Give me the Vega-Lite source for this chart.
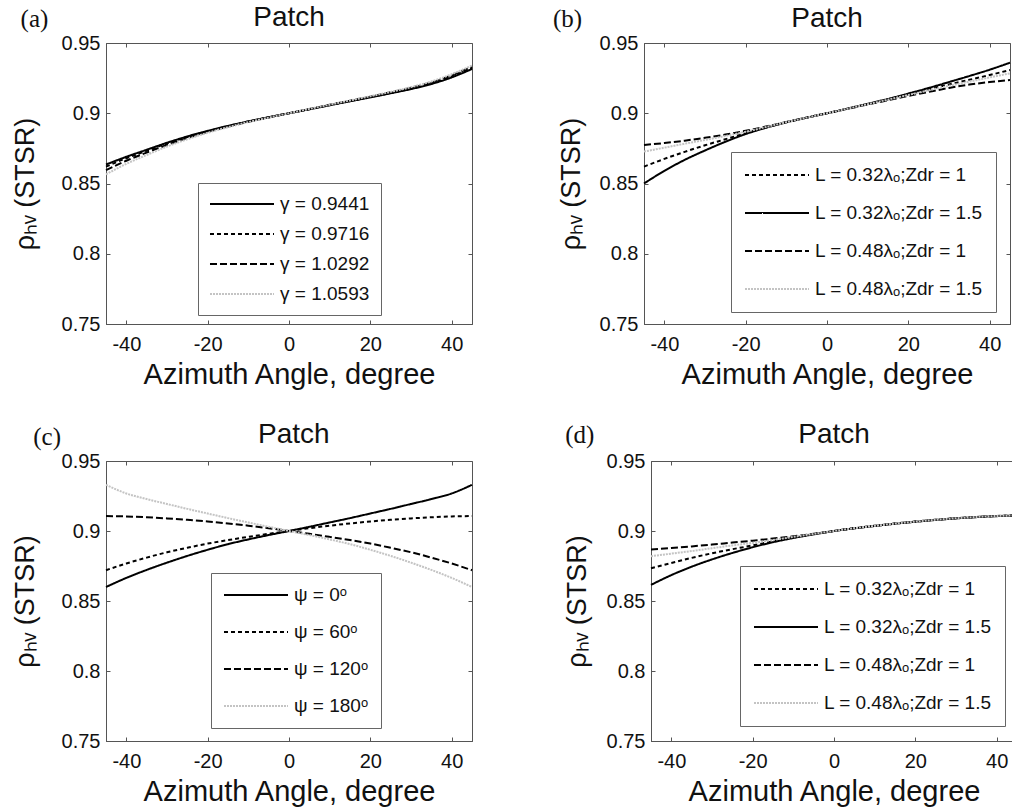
{
"$schema": "https://vega.github.io/schema/vega-lite/v6.json",
"padding": {"left": 10, "top": 3, "right": 0, "bottom": 0},
"background": "white",
"config": {
 "font": "Liberation Sans",
 "view": {"stroke": "#555", "strokeWidth": 1},
 "axis": {"grid": false, "labelFont": "Liberation Sans", "labelFontSize": 20, "labelColor": "#111", "titleFont": "Liberation Sans", "titleFontSize": 29, "titleFontWeight": "normal", "titleColor": "#111", "domainColor": "#555", "tickColor": "#555", "tickSize": -4, "tickWidth": 1},
 "axisX": {"labelPadding": 14, "titlePadding": 6},
 "axisY": {"labelPadding": 10, "titleFontSize": 27},
 "legend": {"labelFont": "Liberation Sans", "labelFontSize": 19, "labelColor": "#111", "labelLimit": 400, "symbolType": "M-3.556,0H3.556", "symbolSize": 324, "symbolOffset": 23, "symbolStrokeWidth": 2, "strokeColor": "#666", "fillColor": "white", "labelOffset": 28}
},
"datasets": {
"a": [
{"phi":-45,"rho":0.8635,"series":"γ = 0.9441"},{"phi":-40,"rho":0.8690,"series":"γ = 0.9441"},{"phi":-35,"rho":0.8740,"series":"γ = 0.9441"},{"phi":-30,"rho":0.8790,"series":"γ = 0.9441"},{"phi":-25,"rho":0.8835,"series":"γ = 0.9441"},{"phi":-20,"rho":0.8875,"series":"γ = 0.9441"},{"phi":-15,"rho":0.8910,"series":"γ = 0.9441"},{"phi":-10,"rho":0.8942,"series":"γ = 0.9441"},{"phi":-5,"rho":0.8972,"series":"γ = 0.9441"},{"phi":0,"rho":0.9000,"series":"γ = 0.9441"},{"phi":5,"rho":0.9028,"series":"γ = 0.9441"},{"phi":10,"rho":0.9057,"series":"γ = 0.9441"},{"phi":15,"rho":0.9085,"series":"γ = 0.9441"},{"phi":20,"rho":0.9113,"series":"γ = 0.9441"},{"phi":25,"rho":0.9142,"series":"γ = 0.9441"},{"phi":30,"rho":0.9172,"series":"γ = 0.9441"},{"phi":35,"rho":0.9208,"series":"γ = 0.9441"},{"phi":40,"rho":0.9255,"series":"γ = 0.9441"},{"phi":45,"rho":0.9315,"series":"γ = 0.9441"},
{"phi":-45,"rho":0.8620,"series":"γ = 0.9716"},{"phi":-40,"rho":0.8680,"series":"γ = 0.9716"},{"phi":-35,"rho":0.8733,"series":"γ = 0.9716"},{"phi":-30,"rho":0.8785,"series":"γ = 0.9716"},{"phi":-25,"rho":0.8831,"series":"γ = 0.9716"},{"phi":-20,"rho":0.8872,"series":"γ = 0.9716"},{"phi":-15,"rho":0.8908,"series":"γ = 0.9716"},{"phi":-10,"rho":0.8941,"series":"γ = 0.9716"},{"phi":-5,"rho":0.8971,"series":"γ = 0.9716"},{"phi":0,"rho":0.9000,"series":"γ = 0.9716"},{"phi":5,"rho":0.9029,"series":"γ = 0.9716"},{"phi":10,"rho":0.9058,"series":"γ = 0.9716"},{"phi":15,"rho":0.9087,"series":"γ = 0.9716"},{"phi":20,"rho":0.9115,"series":"γ = 0.9716"},{"phi":25,"rho":0.9145,"series":"γ = 0.9716"},{"phi":30,"rho":0.9176,"series":"γ = 0.9716"},{"phi":35,"rho":0.9213,"series":"γ = 0.9716"},{"phi":40,"rho":0.9262,"series":"γ = 0.9716"},{"phi":45,"rho":0.9323,"series":"γ = 0.9716"},
{"phi":-45,"rho":0.8595,"series":"γ = 1.0292"},{"phi":-40,"rho":0.8662,"series":"γ = 1.0292"},{"phi":-35,"rho":0.8720,"series":"γ = 1.0292"},{"phi":-30,"rho":0.8775,"series":"γ = 1.0292"},{"phi":-25,"rho":0.8824,"series":"γ = 1.0292"},{"phi":-20,"rho":0.8867,"series":"γ = 1.0292"},{"phi":-15,"rho":0.8905,"series":"γ = 1.0292"},{"phi":-10,"rho":0.8939,"series":"γ = 1.0292"},{"phi":-5,"rho":0.8970,"series":"γ = 1.0292"},{"phi":0,"rho":0.9000,"series":"γ = 1.0292"},{"phi":5,"rho":0.9030,"series":"γ = 1.0292"},{"phi":10,"rho":0.9060,"series":"γ = 1.0292"},{"phi":15,"rho":0.9089,"series":"γ = 1.0292"},{"phi":20,"rho":0.9118,"series":"γ = 1.0292"},{"phi":25,"rho":0.9149,"series":"γ = 1.0292"},{"phi":30,"rho":0.9181,"series":"γ = 1.0292"},{"phi":35,"rho":0.9219,"series":"γ = 1.0292"},{"phi":40,"rho":0.9270,"series":"γ = 1.0292"},{"phi":45,"rho":0.9332,"series":"γ = 1.0292"},
{"phi":-45,"rho":0.8565,"series":"γ = 1.0593"},{"phi":-40,"rho":0.8640,"series":"γ = 1.0593"},{"phi":-35,"rho":0.8703,"series":"γ = 1.0593"},{"phi":-30,"rho":0.8763,"series":"γ = 1.0593"},{"phi":-25,"rho":0.8815,"series":"γ = 1.0593"},{"phi":-20,"rho":0.8861,"series":"γ = 1.0593"},{"phi":-15,"rho":0.8901,"series":"γ = 1.0593"},{"phi":-10,"rho":0.8937,"series":"γ = 1.0593"},{"phi":-5,"rho":0.8969,"series":"γ = 1.0593"},{"phi":0,"rho":0.9000,"series":"γ = 1.0593"},{"phi":5,"rho":0.9031,"series":"γ = 1.0593"},{"phi":10,"rho":0.9061,"series":"γ = 1.0593"},{"phi":15,"rho":0.9091,"series":"γ = 1.0593"},{"phi":20,"rho":0.9121,"series":"γ = 1.0593"},{"phi":25,"rho":0.9152,"series":"γ = 1.0593"},{"phi":30,"rho":0.9186,"series":"γ = 1.0593"},{"phi":35,"rho":0.9226,"series":"γ = 1.0593"},{"phi":40,"rho":0.9278,"series":"γ = 1.0593"},{"phi":45,"rho":0.9340,"series":"γ = 1.0593"}
],
"b": [
{"phi":-45,"rho":0.8620,"series":"L = 0.32λₒ;Zdr = 1"},{"phi":-40,"rho":0.8675,"series":"L = 0.32λₒ;Zdr = 1"},{"phi":-35,"rho":0.8725,"series":"L = 0.32λₒ;Zdr = 1"},{"phi":-30,"rho":0.8772,"series":"L = 0.32λₒ;Zdr = 1"},{"phi":-25,"rho":0.8815,"series":"L = 0.32λₒ;Zdr = 1"},{"phi":-20,"rho":0.8858,"series":"L = 0.32λₒ;Zdr = 1"},{"phi":-15,"rho":0.8899,"series":"L = 0.32λₒ;Zdr = 1"},{"phi":-10,"rho":0.8936,"series":"L = 0.32λₒ;Zdr = 1"},{"phi":-5,"rho":0.8969,"series":"L = 0.32λₒ;Zdr = 1"},{"phi":0,"rho":0.9000,"series":"L = 0.32λₒ;Zdr = 1"},{"phi":5,"rho":0.9032,"series":"L = 0.32λₒ;Zdr = 1"},{"phi":10,"rho":0.9065,"series":"L = 0.32λₒ;Zdr = 1"},{"phi":15,"rho":0.9099,"series":"L = 0.32λₒ;Zdr = 1"},{"phi":20,"rho":0.9134,"series":"L = 0.32λₒ;Zdr = 1"},{"phi":25,"rho":0.9170,"series":"L = 0.32λₒ;Zdr = 1"},{"phi":30,"rho":0.9205,"series":"L = 0.32λₒ;Zdr = 1"},{"phi":35,"rho":0.9238,"series":"L = 0.32λₒ;Zdr = 1"},{"phi":40,"rho":0.9272,"series":"L = 0.32λₒ;Zdr = 1"},{"phi":45,"rho":0.9308,"series":"L = 0.32λₒ;Zdr = 1"},
{"phi":-45,"rho":0.8500,"series":"L = 0.32λₒ;Zdr = 1.5"},{"phi":-40,"rho":0.8590,"series":"L = 0.32λₒ;Zdr = 1.5"},{"phi":-35,"rho":0.8668,"series":"L = 0.32λₒ;Zdr = 1.5"},{"phi":-30,"rho":0.8735,"series":"L = 0.32λₒ;Zdr = 1.5"},{"phi":-25,"rho":0.8797,"series":"L = 0.32λₒ;Zdr = 1.5"},{"phi":-20,"rho":0.8852,"series":"L = 0.32λₒ;Zdr = 1.5"},{"phi":-15,"rho":0.8897,"series":"L = 0.32λₒ;Zdr = 1.5"},{"phi":-10,"rho":0.8935,"series":"L = 0.32λₒ;Zdr = 1.5"},{"phi":-5,"rho":0.8969,"series":"L = 0.32λₒ;Zdr = 1.5"},{"phi":0,"rho":0.9000,"series":"L = 0.32λₒ;Zdr = 1.5"},{"phi":5,"rho":0.9033,"series":"L = 0.32λₒ;Zdr = 1.5"},{"phi":10,"rho":0.9067,"series":"L = 0.32λₒ;Zdr = 1.5"},{"phi":15,"rho":0.9102,"series":"L = 0.32λₒ;Zdr = 1.5"},{"phi":20,"rho":0.9140,"series":"L = 0.32λₒ;Zdr = 1.5"},{"phi":25,"rho":0.9180,"series":"L = 0.32λₒ;Zdr = 1.5"},{"phi":30,"rho":0.9222,"series":"L = 0.32λₒ;Zdr = 1.5"},{"phi":35,"rho":0.9265,"series":"L = 0.32λₒ;Zdr = 1.5"},{"phi":40,"rho":0.9310,"series":"L = 0.32λₒ;Zdr = 1.5"},{"phi":45,"rho":0.9360,"series":"L = 0.32λₒ;Zdr = 1.5"},
{"phi":-45,"rho":0.8774,"series":"L = 0.48λₒ;Zdr = 1"},{"phi":-40,"rho":0.8788,"series":"L = 0.48λₒ;Zdr = 1"},{"phi":-35,"rho":0.8805,"series":"L = 0.48λₒ;Zdr = 1"},{"phi":-30,"rho":0.8825,"series":"L = 0.48λₒ;Zdr = 1"},{"phi":-25,"rho":0.8848,"series":"L = 0.48λₒ;Zdr = 1"},{"phi":-20,"rho":0.8875,"series":"L = 0.48λₒ;Zdr = 1"},{"phi":-15,"rho":0.8905,"series":"L = 0.48λₒ;Zdr = 1"},{"phi":-10,"rho":0.8937,"series":"L = 0.48λₒ;Zdr = 1"},{"phi":-5,"rho":0.8969,"series":"L = 0.48λₒ;Zdr = 1"},{"phi":0,"rho":0.9000,"series":"L = 0.48λₒ;Zdr = 1"},{"phi":5,"rho":0.9031,"series":"L = 0.48λₒ;Zdr = 1"},{"phi":10,"rho":0.9062,"series":"L = 0.48λₒ;Zdr = 1"},{"phi":15,"rho":0.9093,"series":"L = 0.48λₒ;Zdr = 1"},{"phi":20,"rho":0.9123,"series":"L = 0.48λₒ;Zdr = 1"},{"phi":25,"rho":0.9152,"series":"L = 0.48λₒ;Zdr = 1"},{"phi":30,"rho":0.9180,"series":"L = 0.48λₒ;Zdr = 1"},{"phi":35,"rho":0.9204,"series":"L = 0.48λₒ;Zdr = 1"},{"phi":40,"rho":0.9222,"series":"L = 0.48λₒ;Zdr = 1"},{"phi":45,"rho":0.9237,"series":"L = 0.48λₒ;Zdr = 1"},
{"phi":-45,"rho":0.8727,"series":"L = 0.48λₒ;Zdr = 1.5"},{"phi":-40,"rho":0.8755,"series":"L = 0.48λₒ;Zdr = 1.5"},{"phi":-35,"rho":0.8783,"series":"L = 0.48λₒ;Zdr = 1.5"},{"phi":-30,"rho":0.8810,"series":"L = 0.48λₒ;Zdr = 1.5"},{"phi":-25,"rho":0.8838,"series":"L = 0.48λₒ;Zdr = 1.5"},{"phi":-20,"rho":0.8868,"series":"L = 0.48λₒ;Zdr = 1.5"},{"phi":-15,"rho":0.8902,"series":"L = 0.48λₒ;Zdr = 1.5"},{"phi":-10,"rho":0.8936,"series":"L = 0.48λₒ;Zdr = 1.5"},{"phi":-5,"rho":0.8969,"series":"L = 0.48λₒ;Zdr = 1.5"},{"phi":0,"rho":0.9000,"series":"L = 0.48λₒ;Zdr = 1.5"},{"phi":5,"rho":0.9032,"series":"L = 0.48λₒ;Zdr = 1.5"},{"phi":10,"rho":0.9064,"series":"L = 0.48λₒ;Zdr = 1.5"},{"phi":15,"rho":0.9097,"series":"L = 0.48λₒ;Zdr = 1.5"},{"phi":20,"rho":0.9130,"series":"L = 0.48λₒ;Zdr = 1.5"},{"phi":25,"rho":0.9163,"series":"L = 0.48λₒ;Zdr = 1.5"},{"phi":30,"rho":0.9195,"series":"L = 0.48λₒ;Zdr = 1.5"},{"phi":35,"rho":0.9225,"series":"L = 0.48λₒ;Zdr = 1.5"},{"phi":40,"rho":0.9255,"series":"L = 0.48λₒ;Zdr = 1.5"},{"phi":45,"rho":0.9284,"series":"L = 0.48λₒ;Zdr = 1.5"}
],
"c": [
{"phi":-45,"rho":0.8600,"series":"ψ = 0ᵒ"},{"phi":-40,"rho":0.8665,"series":"ψ = 0ᵒ"},{"phi":-35,"rho":0.8722,"series":"ψ = 0ᵒ"},{"phi":-30,"rho":0.8774,"series":"ψ = 0ᵒ"},{"phi":-25,"rho":0.8822,"series":"ψ = 0ᵒ"},{"phi":-20,"rho":0.8866,"series":"ψ = 0ᵒ"},{"phi":-15,"rho":0.8906,"series":"ψ = 0ᵒ"},{"phi":-10,"rho":0.8940,"series":"ψ = 0ᵒ"},{"phi":-5,"rho":0.8971,"series":"ψ = 0ᵒ"},{"phi":0,"rho":0.9000,"series":"ψ = 0ᵒ"},{"phi":5,"rho":0.9030,"series":"ψ = 0ᵒ"},{"phi":10,"rho":0.9061,"series":"ψ = 0ᵒ"},{"phi":15,"rho":0.9092,"series":"ψ = 0ᵒ"},{"phi":20,"rho":0.9125,"series":"ψ = 0ᵒ"},{"phi":25,"rho":0.9158,"series":"ψ = 0ᵒ"},{"phi":30,"rho":0.9193,"series":"ψ = 0ᵒ"},{"phi":35,"rho":0.9228,"series":"ψ = 0ᵒ"},{"phi":40,"rho":0.9268,"series":"ψ = 0ᵒ"},{"phi":45,"rho":0.9330,"series":"ψ = 0ᵒ"},
{"phi":-45,"rho":0.8720,"series":"ψ = 60ᵒ"},{"phi":-40,"rho":0.8768,"series":"ψ = 60ᵒ"},{"phi":-35,"rho":0.8810,"series":"ψ = 60ᵒ"},{"phi":-30,"rho":0.8848,"series":"ψ = 60ᵒ"},{"phi":-25,"rho":0.8880,"series":"ψ = 60ᵒ"},{"phi":-20,"rho":0.8910,"series":"ψ = 60ᵒ"},{"phi":-15,"rho":0.8935,"series":"ψ = 60ᵒ"},{"phi":-10,"rho":0.8958,"series":"ψ = 60ᵒ"},{"phi":-5,"rho":0.8980,"series":"ψ = 60ᵒ"},{"phi":0,"rho":0.9000,"series":"ψ = 60ᵒ"},{"phi":5,"rho":0.9020,"series":"ψ = 60ᵒ"},{"phi":10,"rho":0.9038,"series":"ψ = 60ᵒ"},{"phi":15,"rho":0.9054,"series":"ψ = 60ᵒ"},{"phi":20,"rho":0.9068,"series":"ψ = 60ᵒ"},{"phi":25,"rho":0.9080,"series":"ψ = 60ᵒ"},{"phi":30,"rho":0.9090,"series":"ψ = 60ᵒ"},{"phi":35,"rho":0.9098,"series":"ψ = 60ᵒ"},{"phi":40,"rho":0.9104,"series":"ψ = 60ᵒ"},{"phi":45,"rho":0.9107,"series":"ψ = 60ᵒ"},
{"phi":-45,"rho":0.9107,"series":"ψ = 120ᵒ"},{"phi":-40,"rho":0.9104,"series":"ψ = 120ᵒ"},{"phi":-35,"rho":0.9098,"series":"ψ = 120ᵒ"},{"phi":-30,"rho":0.9090,"series":"ψ = 120ᵒ"},{"phi":-25,"rho":0.9080,"series":"ψ = 120ᵒ"},{"phi":-20,"rho":0.9068,"series":"ψ = 120ᵒ"},{"phi":-15,"rho":0.9054,"series":"ψ = 120ᵒ"},{"phi":-10,"rho":0.9038,"series":"ψ = 120ᵒ"},{"phi":-5,"rho":0.9020,"series":"ψ = 120ᵒ"},{"phi":0,"rho":0.9000,"series":"ψ = 120ᵒ"},{"phi":5,"rho":0.8980,"series":"ψ = 120ᵒ"},{"phi":10,"rho":0.8958,"series":"ψ = 120ᵒ"},{"phi":15,"rho":0.8935,"series":"ψ = 120ᵒ"},{"phi":20,"rho":0.8910,"series":"ψ = 120ᵒ"},{"phi":25,"rho":0.8880,"series":"ψ = 120ᵒ"},{"phi":30,"rho":0.8848,"series":"ψ = 120ᵒ"},{"phi":35,"rho":0.8810,"series":"ψ = 120ᵒ"},{"phi":40,"rho":0.8768,"series":"ψ = 120ᵒ"},{"phi":45,"rho":0.8720,"series":"ψ = 120ᵒ"},
{"phi":-45,"rho":0.9330,"series":"ψ = 180ᵒ"},{"phi":-40,"rho":0.9268,"series":"ψ = 180ᵒ"},{"phi":-35,"rho":0.9228,"series":"ψ = 180ᵒ"},{"phi":-30,"rho":0.9193,"series":"ψ = 180ᵒ"},{"phi":-25,"rho":0.9158,"series":"ψ = 180ᵒ"},{"phi":-20,"rho":0.9125,"series":"ψ = 180ᵒ"},{"phi":-15,"rho":0.9092,"series":"ψ = 180ᵒ"},{"phi":-10,"rho":0.9061,"series":"ψ = 180ᵒ"},{"phi":-5,"rho":0.9030,"series":"ψ = 180ᵒ"},{"phi":0,"rho":0.9000,"series":"ψ = 180ᵒ"},{"phi":5,"rho":0.8971,"series":"ψ = 180ᵒ"},{"phi":10,"rho":0.8940,"series":"ψ = 180ᵒ"},{"phi":15,"rho":0.8906,"series":"ψ = 180ᵒ"},{"phi":20,"rho":0.8866,"series":"ψ = 180ᵒ"},{"phi":25,"rho":0.8822,"series":"ψ = 180ᵒ"},{"phi":30,"rho":0.8774,"series":"ψ = 180ᵒ"},{"phi":35,"rho":0.8722,"series":"ψ = 180ᵒ"},{"phi":40,"rho":0.8665,"series":"ψ = 180ᵒ"},{"phi":45,"rho":0.8600,"series":"ψ = 180ᵒ"}
],
"d": [
{"phi":-45,"rho":0.8734,"series":"L = 0.32λₒ;Zdr = 1"},{"phi":-40,"rho":0.8772,"series":"L = 0.32λₒ;Zdr = 1"},{"phi":-35,"rho":0.8808,"series":"L = 0.32λₒ;Zdr = 1"},{"phi":-30,"rho":0.8841,"series":"L = 0.32λₒ;Zdr = 1"},{"phi":-25,"rho":0.8870,"series":"L = 0.32λₒ;Zdr = 1"},{"phi":-20,"rho":0.8897,"series":"L = 0.32λₒ;Zdr = 1"},{"phi":-15,"rho":0.8927,"series":"L = 0.32λₒ;Zdr = 1"},{"phi":-10,"rho":0.8954,"series":"L = 0.32λₒ;Zdr = 1"},{"phi":-5,"rho":0.8978,"series":"L = 0.32λₒ;Zdr = 1"},{"phi":0,"rho":0.9000,"series":"L = 0.32λₒ;Zdr = 1"},{"phi":5,"rho":0.9020,"series":"L = 0.32λₒ;Zdr = 1"},{"phi":10,"rho":0.9037,"series":"L = 0.32λₒ;Zdr = 1"},{"phi":15,"rho":0.9053,"series":"L = 0.32λₒ;Zdr = 1"},{"phi":20,"rho":0.9067,"series":"L = 0.32λₒ;Zdr = 1"},{"phi":25,"rho":0.9080,"series":"L = 0.32λₒ;Zdr = 1"},{"phi":30,"rho":0.9091,"series":"L = 0.32λₒ;Zdr = 1"},{"phi":35,"rho":0.9100,"series":"L = 0.32λₒ;Zdr = 1"},{"phi":40,"rho":0.9107,"series":"L = 0.32λₒ;Zdr = 1"},{"phi":45,"rho":0.9112,"series":"L = 0.32λₒ;Zdr = 1"},
{"phi":-45,"rho":0.8615,"series":"L = 0.32λₒ;Zdr = 1.5"},{"phi":-40,"rho":0.8685,"series":"L = 0.32λₒ;Zdr = 1.5"},{"phi":-35,"rho":0.8745,"series":"L = 0.32λₒ;Zdr = 1.5"},{"phi":-30,"rho":0.8797,"series":"L = 0.32λₒ;Zdr = 1.5"},{"phi":-25,"rho":0.8843,"series":"L = 0.32λₒ;Zdr = 1.5"},{"phi":-20,"rho":0.8884,"series":"L = 0.32λₒ;Zdr = 1.5"},{"phi":-15,"rho":0.8920,"series":"L = 0.32λₒ;Zdr = 1.5"},{"phi":-10,"rho":0.8950,"series":"L = 0.32λₒ;Zdr = 1.5"},{"phi":-5,"rho":0.8976,"series":"L = 0.32λₒ;Zdr = 1.5"},{"phi":0,"rho":0.9000,"series":"L = 0.32λₒ;Zdr = 1.5"},{"phi":5,"rho":0.9019,"series":"L = 0.32λₒ;Zdr = 1.5"},{"phi":10,"rho":0.9036,"series":"L = 0.32λₒ;Zdr = 1.5"},{"phi":15,"rho":0.9052,"series":"L = 0.32λₒ;Zdr = 1.5"},{"phi":20,"rho":0.9066,"series":"L = 0.32λₒ;Zdr = 1.5"},{"phi":25,"rho":0.9079,"series":"L = 0.32λₒ;Zdr = 1.5"},{"phi":30,"rho":0.9090,"series":"L = 0.32λₒ;Zdr = 1.5"},{"phi":35,"rho":0.9099,"series":"L = 0.32λₒ;Zdr = 1.5"},{"phi":40,"rho":0.9106,"series":"L = 0.32λₒ;Zdr = 1.5"},{"phi":45,"rho":0.9111,"series":"L = 0.32λₒ;Zdr = 1.5"},
{"phi":-45,"rho":0.8868,"series":"L = 0.48λₒ;Zdr = 1"},{"phi":-40,"rho":0.8878,"series":"L = 0.48λₒ;Zdr = 1"},{"phi":-35,"rho":0.8890,"series":"L = 0.48λₒ;Zdr = 1"},{"phi":-30,"rho":0.8903,"series":"L = 0.48λₒ;Zdr = 1"},{"phi":-25,"rho":0.8917,"series":"L = 0.48λₒ;Zdr = 1"},{"phi":-20,"rho":0.8931,"series":"L = 0.48λₒ;Zdr = 1"},{"phi":-15,"rho":0.8946,"series":"L = 0.48λₒ;Zdr = 1"},{"phi":-10,"rho":0.8962,"series":"L = 0.48λₒ;Zdr = 1"},{"phi":-5,"rho":0.8980,"series":"L = 0.48λₒ;Zdr = 1"},{"phi":0,"rho":0.9000,"series":"L = 0.48λₒ;Zdr = 1"},{"phi":5,"rho":0.9020,"series":"L = 0.48λₒ;Zdr = 1"},{"phi":10,"rho":0.9037,"series":"L = 0.48λₒ;Zdr = 1"},{"phi":15,"rho":0.9053,"series":"L = 0.48λₒ;Zdr = 1"},{"phi":20,"rho":0.9067,"series":"L = 0.48λₒ;Zdr = 1"},{"phi":25,"rho":0.9080,"series":"L = 0.48λₒ;Zdr = 1"},{"phi":30,"rho":0.9091,"series":"L = 0.48λₒ;Zdr = 1"},{"phi":35,"rho":0.9100,"series":"L = 0.48λₒ;Zdr = 1"},{"phi":40,"rho":0.9107,"series":"L = 0.48λₒ;Zdr = 1"},{"phi":45,"rho":0.9112,"series":"L = 0.48λₒ;Zdr = 1"},
{"phi":-45,"rho":0.8820,"series":"L = 0.48λₒ;Zdr = 1.5"},{"phi":-40,"rho":0.8838,"series":"L = 0.48λₒ;Zdr = 1.5"},{"phi":-35,"rho":0.8857,"series":"L = 0.48λₒ;Zdr = 1.5"},{"phi":-30,"rho":0.8877,"series":"L = 0.48λₒ;Zdr = 1.5"},{"phi":-25,"rho":0.8897,"series":"L = 0.48λₒ;Zdr = 1.5"},{"phi":-20,"rho":0.8915,"series":"L = 0.48λₒ;Zdr = 1.5"},{"phi":-15,"rho":0.8936,"series":"L = 0.48λₒ;Zdr = 1.5"},{"phi":-10,"rho":0.8958,"series":"L = 0.48λₒ;Zdr = 1.5"},{"phi":-5,"rho":0.8979,"series":"L = 0.48λₒ;Zdr = 1.5"},{"phi":0,"rho":0.9000,"series":"L = 0.48λₒ;Zdr = 1.5"},{"phi":5,"rho":0.9020,"series":"L = 0.48λₒ;Zdr = 1.5"},{"phi":10,"rho":0.9037,"series":"L = 0.48λₒ;Zdr = 1.5"},{"phi":15,"rho":0.9053,"series":"L = 0.48λₒ;Zdr = 1.5"},{"phi":20,"rho":0.9067,"series":"L = 0.48λₒ;Zdr = 1.5"},{"phi":25,"rho":0.9080,"series":"L = 0.48λₒ;Zdr = 1.5"},{"phi":30,"rho":0.9091,"series":"L = 0.48λₒ;Zdr = 1.5"},{"phi":35,"rho":0.9100,"series":"L = 0.48λₒ;Zdr = 1.5"},{"phi":40,"rho":0.9107,"series":"L = 0.48λₒ;Zdr = 1.5"},{"phi":45,"rho":0.9112,"series":"L = 0.48λₒ;Zdr = 1.5"}
]
},
"spacing": 30,
"align": "none",
"resolve": {"scale": {"color": "independent", "strokeDash": "independent"}},
"vconcat": [
{"hconcat": [
 {"width": 366, "height": 281,
  "resolve": {"axis": {"x": "independent", "y": "independent"}},
  "layer": [
   {"data": {"name": "a"}, "mark": {"type": "line", "strokeWidth": 2, "interpolate": "monotone"},
    "encoding": {
     "x": {"field": "phi", "type": "quantitative", "scale": {"domain": [-45, 45], "nice": false}, "axis": {"values": [-40, -20, 0, 20, 40], "title": "Azimuth Angle, degree", "labelExpr": "datum.value < 0 ? '-' + (-datum.value) : '' + datum.value"}},
     "y": {"field": "rho", "type": "quantitative", "scale": {"domain": [0.75, 0.95], "nice": false, "zero": false}, "axis": {"values": [0.75, 0.8, 0.85, 0.9, 0.95], "format": "~g", "title": "ρₕᵥ  (STSR)", "titlePadding": 22}},
     "color": {"field": "series", "type": "nominal", "scale": {"domain": ["γ = 0.9441", "γ = 0.9716", "γ = 1.0292", "γ = 1.0593"], "range": ["#000000", "#000000", "#000000", "#c4c4c4"]}, "legend": {"title": null, "orient": "none", "legendX": 92, "legendY": 140, "padding": 11, "rowPadding": 10}},
     "strokeDash": {"field": "series", "type": "nominal", "scale": {"domain": ["γ = 0.9441", "γ = 0.9716", "γ = 1.0292", "γ = 1.0593"], "range": [[1, 0], [4, 3], [7, 3], [2, 1]]}, "legend": {"title": null, "orient": "none", "legendX": 92, "legendY": 140, "padding": 11, "rowPadding": 10}}
    }},
   {"data": {"values": [{}]}, "mark": {"type": "text", "font": "Liberation Sans", "fontSize": 28, "align": "center", "baseline": "alphabetic", "color": "#111"},
    "encoding": {"x": {"datum": 0, "type": "quantitative", "axis": {"orient": "top", "values": [-40, -20, 0, 20, 40], "labels": false, "title": null, "domain": false}}, "y": {"datum": 0.9621, "type": "quantitative", "axis": null}, "text": {"value": "Patch"}}},
   {"data": {"values": [{}]}, "mark": {"type": "text", "font": "Liberation Serif", "fontSize": 25, "align": "left", "baseline": "alphabetic", "color": "#111"},
    "encoding": {"x": {"datum": -66, "type": "quantitative", "axis": null}, "y": {"datum": 0.9614, "type": "quantitative", "axis": {"orient": "right", "values": [0.75, 0.8, 0.85, 0.9, 0.95], "labels": false, "title": null, "domain": false}}, "text": {"value": "(a)"}}}
  ]},
 {"width": 366, "height": 281,
  "resolve": {"axis": {"x": "independent", "y": "independent"}},
  "layer": [
   {"data": {"name": "b"}, "mark": {"type": "line", "strokeWidth": 2, "interpolate": "monotone"},
    "encoding": {
     "x": {"field": "phi", "type": "quantitative", "scale": {"domain": [-45, 45], "nice": false}, "axis": {"values": [-40, -20, 0, 20, 40], "title": "Azimuth Angle, degree", "labelExpr": "datum.value < 0 ? '-' + (-datum.value) : '' + datum.value"}},
     "y": {"field": "rho", "type": "quantitative", "scale": {"domain": [0.75, 0.95], "nice": false, "zero": false}, "axis": {"values": [0.75, 0.8, 0.85, 0.9, 0.95], "format": "~g", "title": "ρₕᵥ  (STSR)", "titlePadding": 14}},
     "color": {"field": "series", "type": "nominal", "scale": {"domain": ["L = 0.32λₒ;Zdr = 1", "L = 0.32λₒ;Zdr = 1.5", "L = 0.48λₒ;Zdr = 1", "L = 0.48λₒ;Zdr = 1.5"], "range": ["#000000", "#000000", "#000000", "#c4c4c4"]}, "legend": {"title": null, "orient": "none", "legendX": 87, "legendY": 109, "padding": 13, "rowPadding": 18}},
     "strokeDash": {"field": "series", "type": "nominal", "scale": {"domain": ["L = 0.32λₒ;Zdr = 1", "L = 0.32λₒ;Zdr = 1.5", "L = 0.48λₒ;Zdr = 1", "L = 0.48λₒ;Zdr = 1.5"], "range": [[4, 3], [1, 0], [7, 3], [2, 1]]}, "legend": {"title": null, "orient": "none", "legendX": 87, "legendY": 109, "padding": 13, "rowPadding": 18}}
    }},
   {"data": {"values": [{}]}, "mark": {"type": "text", "font": "Liberation Sans", "fontSize": 28, "align": "center", "baseline": "alphabetic", "color": "#111"},
    "encoding": {"x": {"datum": 0, "type": "quantitative", "axis": {"orient": "top", "values": [-40, -20, 0, 20, 40], "labels": false, "title": null, "domain": false}}, "y": {"datum": 0.9616, "type": "quantitative", "axis": null}, "text": {"value": "Patch"}}},
   {"data": {"values": [{}]}, "mark": {"type": "text", "font": "Liberation Serif", "fontSize": 25, "align": "left", "baseline": "alphabetic", "color": "#111"},
    "encoding": {"x": {"datum": -67.4, "type": "quantitative", "axis": null}, "y": {"datum": 0.9614, "type": "quantitative", "axis": {"orient": "right", "values": [0.75, 0.8, 0.85, 0.9, 0.95], "labels": false, "title": null, "domain": false}}, "text": {"value": "(b)"}}}
  ]}
], "spacing": 75, "resolve": {"scale": {"color": "independent", "strokeDash": "independent"}}},
{"hconcat": [
 {"width": 366, "height": 280,
  "resolve": {"axis": {"x": "independent", "y": "independent"}},
  "layer": [
   {"data": {"name": "c"}, "mark": {"type": "line", "strokeWidth": 2, "interpolate": "monotone"},
    "encoding": {
     "x": {"field": "phi", "type": "quantitative", "scale": {"domain": [-45, 45], "nice": false}, "axis": {"values": [-40, -20, 0, 20, 40], "title": "Azimuth Angle, degree", "labelExpr": "datum.value < 0 ? '-' + (-datum.value) : '' + datum.value"}},
     "y": {"field": "rho", "type": "quantitative", "scale": {"domain": [0.75, 0.95], "nice": false, "zero": false}, "axis": {"values": [0.75, 0.8, 0.85, 0.9, 0.95], "format": "~g", "title": "ρₕᵥ  (STSR)", "titlePadding": 22}},
     "color": {"field": "series", "type": "nominal", "scale": {"domain": ["ψ = 0ᵒ", "ψ = 60ᵒ", "ψ = 120ᵒ", "ψ = 180ᵒ"], "range": ["#000000", "#000000", "#000000", "#c4c4c4"]}, "legend": {"title": null, "orient": "none", "legendX": 105, "legendY": 112, "padding": 12, "rowPadding": 17}},
     "strokeDash": {"field": "series", "type": "nominal", "scale": {"domain": ["ψ = 0ᵒ", "ψ = 60ᵒ", "ψ = 120ᵒ", "ψ = 180ᵒ"], "range": [[1, 0], [4, 3], [7, 3], [2, 1]]}, "legend": {"title": null, "orient": "none", "legendX": 105, "legendY": 112, "padding": 12, "rowPadding": 17}}
    }},
   {"data": {"values": [{}]}, "mark": {"type": "text", "font": "Liberation Sans", "fontSize": 28, "align": "center", "baseline": "alphabetic", "color": "#111"},
    "encoding": {"x": {"datum": 1.2, "type": "quantitative", "axis": {"orient": "top", "values": [-40, -20, 0, 20, 40], "labels": false, "title": null, "domain": false}}, "y": {"datum": 0.9626, "type": "quantitative", "axis": null}, "text": {"value": "Patch"}}},
   {"data": {"values": [{}]}, "mark": {"type": "text", "font": "Liberation Serif", "fontSize": 25, "align": "left", "baseline": "alphabetic", "color": "#111"},
    "encoding": {"x": {"datum": -62.9, "type": "quantitative", "axis": null}, "y": {"datum": 0.9614, "type": "quantitative", "axis": {"orient": "right", "values": [0.75, 0.8, 0.85, 0.9, 0.95], "labels": false, "title": null, "domain": false}}, "text": {"value": "(c)"}}}
  ]},
 {"width": 366, "height": 280,
  "resolve": {"axis": {"x": "independent", "y": "independent"}},
  "layer": [
   {"data": {"name": "d"}, "mark": {"type": "line", "strokeWidth": 2, "interpolate": "monotone"},
    "encoding": {
     "x": {"field": "phi", "type": "quantitative", "scale": {"domain": [-45, 45], "nice": false}, "axis": {"values": [-40, -20, 0, 20, 40], "title": "Azimuth Angle, degree", "labelExpr": "datum.value < 0 ? '-' + (-datum.value) : '' + datum.value"}},
     "y": {"field": "rho", "type": "quantitative", "scale": {"domain": [0.75, 0.95], "nice": false, "zero": false}, "axis": {"values": [0.75, 0.8, 0.85, 0.9, 0.95], "format": "~g", "title": "ρₕᵥ  (STSR)", "titlePadding": 15}},
     "color": {"field": "series", "type": "nominal", "scale": {"domain": ["L = 0.32λₒ;Zdr = 1", "L = 0.32λₒ;Zdr = 1.5", "L = 0.48λₒ;Zdr = 1", "L = 0.48λₒ;Zdr = 1.5"], "range": ["#000000", "#000000", "#000000", "#c4c4c4"]}, "legend": {"title": null, "orient": "none", "legendX": 89, "legendY": 105, "padding": 13, "rowPadding": 18}},
     "strokeDash": {"field": "series", "type": "nominal", "scale": {"domain": ["L = 0.32λₒ;Zdr = 1", "L = 0.32λₒ;Zdr = 1.5", "L = 0.48λₒ;Zdr = 1", "L = 0.48λₒ;Zdr = 1.5"], "range": [[4, 3], [1, 0], [7, 3], [2, 1]]}, "legend": {"title": null, "orient": "none", "legendX": 89, "legendY": 105, "padding": 13, "rowPadding": 18}}
    }},
   {"data": {"values": [{}]}, "mark": {"type": "text", "font": "Liberation Sans", "fontSize": 28, "align": "center", "baseline": "alphabetic", "color": "#111"},
    "encoding": {"x": {"datum": 0, "type": "quantitative", "axis": {"orient": "top", "values": [-40, -20, 0, 20, 40], "labels": false, "title": null, "domain": false}}, "y": {"datum": 0.963, "type": "quantitative", "axis": null}, "text": {"value": "Patch"}}},
   {"data": {"values": [{}]}, "mark": {"type": "text", "font": "Liberation Serif", "fontSize": 25, "align": "left", "baseline": "alphabetic", "color": "#111"},
    "encoding": {"x": {"datum": -66.1, "type": "quantitative", "axis": null}, "y": {"datum": 0.9629, "type": "quantitative", "axis": {"orient": "right", "values": [0.75, 0.8, 0.85, 0.9, 0.95], "labels": false, "title": null, "domain": false}}, "text": {"value": "(d)"}}}
  ]}
], "spacing": 85, "resolve": {"scale": {"color": "independent", "strokeDash": "independent"}}}
]
}
